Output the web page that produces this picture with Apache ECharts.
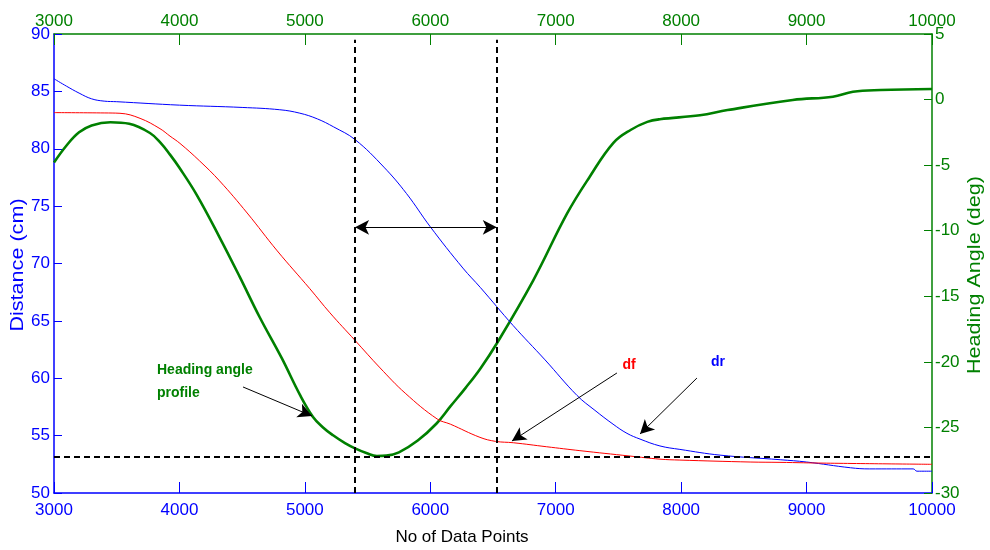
<!DOCTYPE html>
<html>
<head>
<meta charset="utf-8">
<script src="https://cdn.jsdelivr.net/npm/echarts@6/dist/echarts.min.js"></script>
<style>html,body{margin:0;padding:0;background:#fff}#main{width:990px;height:550px}</style>
</head>
<body>
<div id="main"></div>
<script>
// x-axis tick values (No of Data Points)
var xTicks = [3000, 4000, 5000, 6000, 7000, 8000, 9000, 10000];
// dr (rear distance, cm)
var drX = [3000,3100,3200,3300,3400,3500,4000,4500,4800,4960,5100,5230,5400,5630,5810,6000,6260,6400,6660,6915,7170,7313,7457,7568,7672,7831,7990,8310,8790,9000,9350,9500,9850,9880,10000];
var drY = [86.1,85.45,84.85,84.35,84.15,84.1,83.8,83.6,83.4,83.1,82.6,81.9,80.8,78.4,76.1,73.2,69.6,67.9,64.6,61.6,58.5,57.2,56.0,55.2,54.7,54.1,53.8,53.3,52.9,52.7,52.2,52.1,52.1,51.9,51.9];
// df (front distance, cm)
var dfX = [3000,3400,3526,3686,3845,3925,4004,4160,4320,4540,4780,5040,5200,5400,5600,5800,6055,6160,6396,6520,6662,6928,7193,7592,7831,7990,8550,8788,9160,10000];
var dfY = [83.15,83.12,83.09,82.65,81.75,81.1,80.47,78.95,77.2,74.4,71.1,67.8,65.7,63.3,60.9,58.7,56.45,56.0,54.85,54.5,54.38,54.03,53.69,53.22,52.95,52.87,52.7,52.67,52.6,52.5];
// Heading angle profile (deg)
var hdX = [3000,3100,3200,3300,3450,3600,3765,3850,3925,4000,4140,4320,4480,4640,4815,4960,5065,5145,5225,5320,5400,5490,5575,5650,5750,5900,6050,6160,6280,6400,6530,6820,7090,7270,7460,7600,7730,7830,8150,8370,8890,9210,9370,9590,10000];
var hdY = [-4.8,-3.5,-2.5,-1.97,-1.73,-1.85,-2.55,-3.3,-4.2,-5.2,-7.3,-10.5,-13.5,-16.6,-19.7,-22.5,-24.2,-25.0,-25.6,-26.2,-26.6,-26.95,-27.18,-27.15,-26.9,-26.0,-24.7,-23.4,-22.0,-20.5,-18.6,-13.8,-8.7,-5.9,-3.3,-2.3,-1.7,-1.5,-1.2,-0.8,-0.03,0.22,0.6,0.73,0.81];
// reference markers (distance units / data points)
var vLines = [5400, 6530];
var hLineY = 53.2;
var spanArrowY = 73.15;

function pairs(xs, ys){ return xs.map(function(x,i){ return [x, ys[i]]; }); }

var FONT = 'Liberation Sans';
var BLUE = '#0000ff', RED = '#ff0000', GREEN = '#008000';

var chart = echarts.init(document.getElementById('main'), null, {renderer:'canvas'});

function plain(v){ return String(v); }

function xAx(pos, color, margin){
  return {
    type:'value', position:pos, min:xTicks[0], max:xTicks[xTicks.length-1], interval:1000,
    axisLine:{show:true, onZero:false, lineStyle:{color:color, width:1.5}},
    axisTick:{show:true, inside:true, length:11, lineStyle:{color:color, width:1}},
    axisLabel:{color:color, fontSize:17, fontFamily:FONT, margin:margin, formatter:plain},
    splitLine:{show:false}
  };
}
function yAx(pos, color, min, max, margin){
  return {
    type:'value', position:pos, min:min, max:max, interval:5,
    axisLine:{show:true, onZero:false, lineStyle:{color:color, width:1.5}},
    axisTick:{show:true, inside:true, length:8, lineStyle:{color:color, width:1}},
    axisLabel:{color:color, fontSize:17, fontFamily:FONT, margin:margin, formatter:plain},
    splitLine:{show:false}
  };
}

var arrowStyle = {color:'#000', width:1, type:'solid'};
var dashStyle = {color:'#000', width:2, type:[6,4]};
var AS = [11,14];

var option = {
  animation:false,
  backgroundColor:'#fff',
  grid:{left:54, right:58, top:34, bottom:57, containLabel:false},
  xAxis:[ xAx('bottom', BLUE, 9), xAx('top', GREEN, 4) ],
  yAxis:[ yAx('left', BLUE, 50, 90, 4), yAx('right', GREEN, -30, 5, 3) ],
  series:[
    {
      name:'dr', type:'line', xAxisIndex:0, yAxisIndex:0, data:pairs(drX, drY),
      showSymbol:false, smooth:0.4,
      lineStyle:{color:BLUE, width:1}, z:3,
      markLine:{
        silent:true, animation:false, symbol:['none','none'],
        label:{show:false},
        data:[
          [{coord:[vLines[0],50], lineStyle:dashStyle, symbol:'none'},{coord:[vLines[0],89.5], symbol:'none'}],
          [{coord:[vLines[1],50], lineStyle:dashStyle, symbol:'none'},{coord:[vLines[1],89.5], symbol:'none'}],
          [{coord:[3000,hLineY], lineStyle:dashStyle, symbol:'none'},{coord:[10000,hLineY], symbol:'none'}],
          [{coord:[vLines[0],spanArrowY], lineStyle:arrowStyle, symbol:'arrow', symbolSize:AS},{coord:[vLines[1],spanArrowY], symbol:'arrow', symbolSize:AS}],
          [{coord:[4507,59.24], lineStyle:arrowStyle, symbol:'none'},{coord:[5057,56.71], symbol:'arrow', symbolSize:AS}],
          [{coord:[7488,60.46], lineStyle:arrowStyle, symbol:'none'},{coord:[6651,54.53], symbol:'arrow', symbolSize:AS}],
          [{coord:[8126,60.02], lineStyle:arrowStyle, symbol:'none'},{coord:[7672,55.14], symbol:'arrow', symbolSize:AS}]
        ]
      }
    },
    {
      name:'df', type:'line', xAxisIndex:0, yAxisIndex:0, data:pairs(dfX, dfY),
      showSymbol:false, smooth:0.4,
      lineStyle:{color:RED, width:1}, z:3
    },
    {
      name:'Heading angle', type:'line', xAxisIndex:0, yAxisIndex:1, data:pairs(hdX, hdY),
      showSymbol:false, smooth:0.4,
      lineStyle:{color:GREEN, width:2.6}, z:2
    }
  ],
  graphic:[
    {type:'text', x:18, y:265, rotation:Math.PI/2, scaleX:1.2,
     style:{text:'Distance (cm)', fontSize:18, fontFamily:FONT, fill:BLUE, textAlign:'center', textVerticalAlign:'middle'}},
    {type:'text', x:975, y:275, rotation:Math.PI/2, scaleX:1.2,
     style:{text:'Heading Angle (deg)', fontSize:18, fontFamily:FONT, fill:GREEN, textAlign:'center', textVerticalAlign:'middle'}},
    {type:'text', x:462, y:537,
     style:{text:'No of Data Points', fontSize:17, fontFamily:FONT, fill:'#000', textAlign:'center', textVerticalAlign:'middle'}},
    {type:'text', x:157, y:370,
     style:{text:'Heading angle', fontSize:14, fontWeight:'bold', fontFamily:FONT, fill:GREEN, textAlign:'left', textVerticalAlign:'middle'}},
    {type:'text', x:157, y:393,
     style:{text:'profile', fontSize:14, fontWeight:'bold', fontFamily:FONT, fill:GREEN, textAlign:'left', textVerticalAlign:'middle'}},
    {type:'text', x:629, y:365,
     style:{text:'df', fontSize:14, fontWeight:'bold', fontFamily:FONT, fill:RED, textAlign:'center', textVerticalAlign:'middle'}},
    {type:'text', x:718, y:362,
     style:{text:'dr', fontSize:14, fontWeight:'bold', fontFamily:FONT, fill:BLUE, textAlign:'center', textVerticalAlign:'middle'}}
  ]
};
chart.setOption(option);
</script>
</body>
</html>
